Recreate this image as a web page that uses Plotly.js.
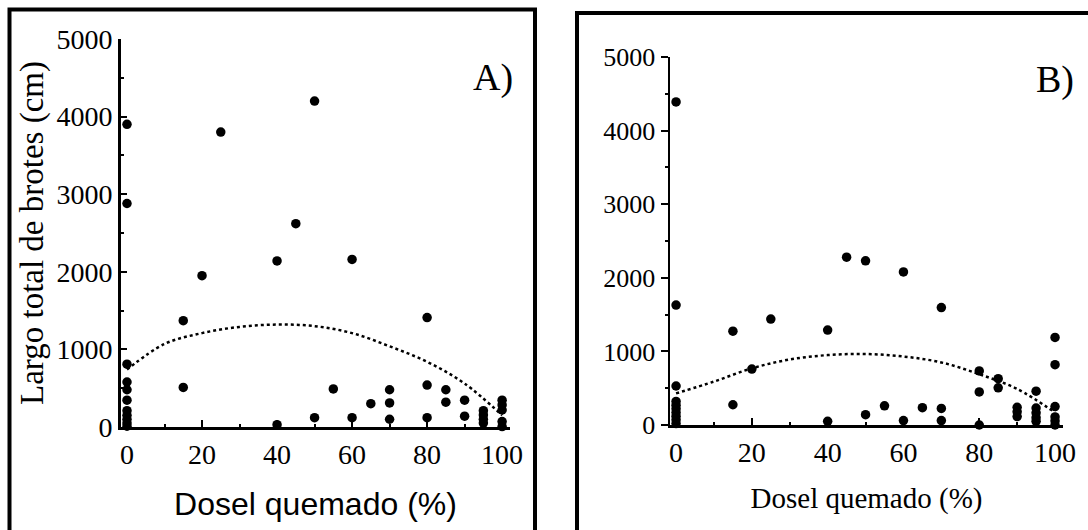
<!DOCTYPE html>
<html>
<head>
<meta charset="utf-8">
<script src="https://cdn.plot.ly/plotly-3.0.1.min.js"></script>
<style>html,body{margin:0;padding:0;background:#fff;}#chart{width:1088px;height:530px;}</style>
</head>
<body>
<div id="chart"></div>
<script>
// Panel A data (Dosel quemado %, Largo total de brotes cm)
const xA = [0,0,0,0,0,0,0,0,0,0,0, 15,15, 20, 25, 40,40, 45, 50,50, 55, 60,60, 65, 70,70,70, 80,80,80, 85,85, 90,90, 95,95,95,95, 100,100,100,100,100];
const yA = [3900,2880,810,580,480,345,210,150,100,50,10, 1370,510, 1950, 3800, 2140,30, 2620, 4200,120, 490, 2160,120, 300, 480,310,100, 1410,540,120, 480,320, 345,140, 210,155,100,50, 345,284,219,70,5];
// Panel B data
const xB = [0,0,0,0,0,0,0,0,0,0, 15,15, 20, 25, 40,40, 45, 50,50, 55, 60,60, 65, 70,70,70, 80,80,80, 85,85, 90,90,90, 95,95,95,95,95, 100,100,100,100,100,100];
const yB = [4390,1630,530,320,270,220,170,120,70,20, 1275,275, 760, 1440, 1290,50, 2280, 2230,140, 260, 2080,60, 235, 1595,225,60, 735,450,0, 630,505, 240,180,115, 460,230,165,100,50, 1190,820,250,110,55,0];
// Fitted trend curves
const curveX = [0,10,20,30,40,50,60,70,80,90,100];
const curveA = [740,1070,1210,1290,1320,1300,1210,1040,840,560,150];
const curveB = [430,590,770,890,950,965,930,850,690,490,170];
// Axis labels
const xTitle = 'Dosel quemado (%)';
const yTitle = 'Largo total de brotes (cm)';
const panelLabels = ['A)', 'B)'];

const W = 1088, H = 530;
const px = v => v / W, py = v => 1 - v / H;
const serif = 'Liberation Serif, Times New Roman, serif';
const sans = 'Liberation Sans, Arial, sans-serif';

const markerStyle = {color: '#000', size: 9.5};
const traces = [
  {x: xA, y: yA, type: 'scatter', mode: 'markers', marker: markerStyle, xaxis: 'x', yaxis: 'y', cliponaxis: false},
  {x: curveX, y: curveA, type: 'scatter', mode: 'lines', line: {color: '#000', width: 2.5, dash: 'dot', shape: 'spline'}, xaxis: 'x', yaxis: 'y', cliponaxis: false},
  {x: xB, y: yB, type: 'scatter', mode: 'markers', marker: markerStyle, xaxis: 'x2', yaxis: 'y2', cliponaxis: false},
  {x: curveX, y: curveB, type: 'scatter', mode: 'lines', line: {color: '#000', width: 2.5, dash: 'dot', shape: 'spline'}, xaxis: 'x2', yaxis: 'y2', cliponaxis: false}
];

function xax(domain, titleFont, tfsize, standoff) {
  return {
    domain: domain, range: [-1.6, 102.1], showline: true, linecolor: '#000', linewidth: 3,
    ticks: 'inside', ticklen: 7, tickwidth: 2, tickcolor: '#000', tick0: 0, dtick: 20,
    minor: {dtick: 10, ticks: 'inside', ticklen: 3, tickwidth: 2, tickcolor: '#000'},
    showgrid: false, zeroline: false, fixedrange: true,
    tickfont: {family: serif, size: 28, color: '#000'},
    title: {text: xTitle, font: {family: titleFont, size: tfsize, color: '#000'}, standoff: standoff}
  };
}

const layout = {
  width: W, height: H, margin: {l: 0, r: 0, t: 0, b: 0},
  paper_bgcolor: '#fff', plot_bgcolor: '#fff', showlegend: false,
  xaxis: Object.assign(xax([px(121), px(510)], sans, 32, 25), {anchor: 'y'}),
  yaxis: {
    domain: [py(427), py(39)], range: [0, 5000], anchor: 'x',
    showline: true, linecolor: '#000', linewidth: 3,
    ticks: 'inside', ticklen: 6, tickwidth: 2, tickcolor: '#000', tick0: 0, dtick: 1000,
    minor: {dtick: 500, ticks: 'inside', ticklen: 3, tickwidth: 2, tickcolor: '#000'},
    showgrid: false, zeroline: false, fixedrange: true,
    tickfont: {family: serif, size: 28, color: '#000'},
    title: {text: yTitle, font: {family: serif, size: 33, color: '#000'}, standoff: 3}
  },
  xaxis2: Object.assign(xax([px(670), px(1063)], serif, 29, 22), {anchor: 'y2'}),
  yaxis2: {
    domain: [py(425), py(57)], range: [0, 5000], anchor: 'x2',
    showline: true, linecolor: '#000', linewidth: 2.5,
    ticks: 'outside', ticklen: 7, tickwidth: 2, tickcolor: '#000', tick0: 0, dtick: 1000,
    minor: {dtick: 500, ticks: 'outside', ticklen: 3, tickwidth: 2, tickcolor: '#000'},
    showgrid: false, zeroline: false, fixedrange: true,
    tickfont: {family: serif, size: 26, color: '#000'}
  },
  annotations: [
    {text: panelLabels[0], xref: 'paper', yref: 'paper', x: px(493), y: py(78), showarrow: false, xanchor: 'center', yanchor: 'middle', font: {family: serif, size: 38, color: '#000'}},
    {text: panelLabels[1], xref: 'paper', yref: 'paper', x: px(1055), y: py(80), showarrow: false, xanchor: 'center', yanchor: 'middle', font: {family: serif, size: 38, color: '#000'}}
  ],
  shapes: [
    {type: 'rect', xref: 'paper', yref: 'paper', x0: px(9.5), x1: px(535), y0: -0.05, y1: py(9.5), line: {color: '#000', width: 4}},
    {type: 'rect', xref: 'paper', yref: 'paper', x0: px(577), x1: 1.05, y0: -0.05, y1: py(13), line: {color: '#000', width: 4}}
  ]
};

Plotly.newPlot('chart', traces, layout, {displayModeBar: false, staticPlot: true});
</script>
</body>
</html>
